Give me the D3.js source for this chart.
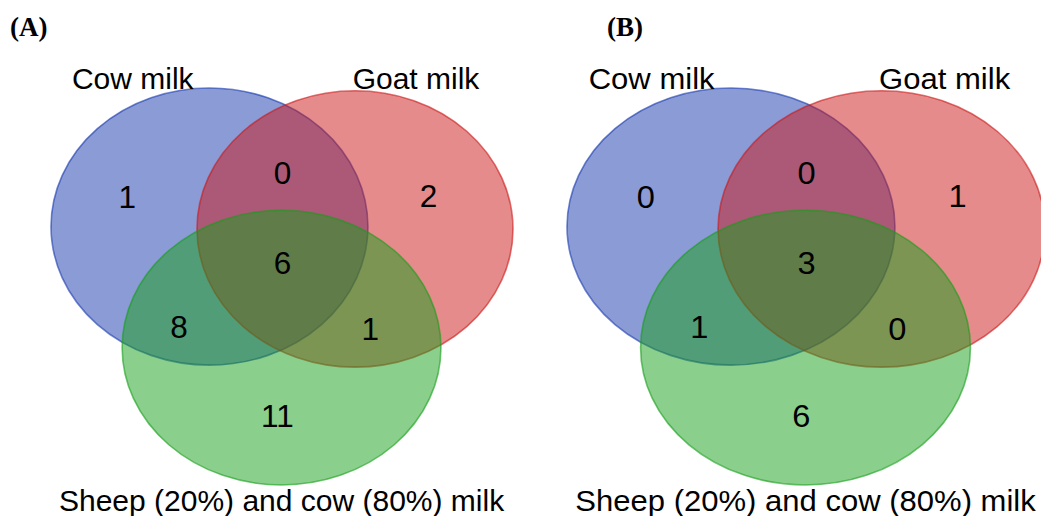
<!DOCTYPE html>
<html>
<head>
<meta charset="utf-8">
<script src="https://cdn.jsdelivr.net/npm/d3@7"></script>
<style>
  html, body { margin: 0; padding: 0; background: #fff; }
  svg { display: block; }
</style>
</head>
<body>
<svg id="chart" width="1041" height="516"></svg>
<script>
// --- data ---
const setNames = ["Cow milk", "Goat milk", "Sheep (20%) and cow (80%) milk"];
const panelLabels = ["(A)", "(B)"];
// regions: cow only, goat only, sheep/cow only, cow∩goat, cow∩sheep, goat∩sheep, all three
const regionNames = ["cow", "goat", "sheep", "cow_goat", "cow_sheep", "goat_sheep", "all"];
const countsA = [1, 2, 11, 0, 8, 1, 6];
const countsB = [0, 1, 6, 0, 1, 0, 3];
const panelCounts = [countsA, countsB];

// --- layout (unit coordinates inside each panel) ---
const setColors = ["#1537ad", "#cb1717", "#159f19"];
const ellipses = [
  { cx: 0.343, cy: 0.349, rx: 0.343, ry: 0.349 },
  { cx: 0.658, cy: 0.355, rx: 0.342, ry: 0.348 },
  { cx: 0.499, cy: 0.654, rx: 0.345, ry: 0.346 }
];
const regionPos = [
  [0.165, 0.274], [0.817, 0.270], [0.490, 0.825],
  [0.501, 0.212], [0.277, 0.600], [0.691, 0.605], [0.501, 0.441]
];
const setLabelPos = [[0.177, 0.0025], [0.79, 0.0025], [0.499, 1.066]];
const panelX = [[51, 513], [567, 1045]];
const panelLetterX = [10, 607];

const svg = d3.select("#chart");
const y = d3.scaleLinear().domain([0, 1]).range([88, 485]);
const ys = y(1) - y(0);

panelCounts.forEach((counts, p) => {
  const x = d3.scaleLinear().domain([0, 1]).range(panelX[p]);
  const xs = x(1) - x(0);
  const sx = xs / 462; // panel B is a little wider
  const g = svg.append("g");

  g.selectAll("ellipse")
    .data(ellipses)
    .join("ellipse")
    .attr("cx", d => x(d.cx))
    .attr("cy", d => y(d.cy))
    .attr("rx", d => d.rx * xs)
    .attr("ry", d => d.ry * ys)
    .attr("fill", (d, i) => setColors[i])
    .attr("fill-opacity", 0.5)
    .attr("stroke", (d, i) => setColors[i])
    .attr("stroke-opacity", 0.6)
    .attr("stroke-width", 1.6);

  g.selectAll("text.count")
    .data(counts)
    .join("text")
    .attr("class", "count")
    .attr("transform", (d, i) => `translate(${x(regionPos[i][0])},${y(regionPos[i][1])}) scale(${sx},1)`)
    .attr("dy", "0.36em")
    .attr("text-anchor", "middle")
    .style("font-family", "'Liberation Sans', Arial, sans-serif")
    .style("font-size", "31.5px")
    .style("fill", "#000")
    .text(d => d);

  g.selectAll("text.setlabel")
    .data(setNames)
    .join("text")
    .attr("class", "setlabel")
    .attr("transform", (d, i) => `translate(${x(setLabelPos[i][0])},${y(setLabelPos[i][1])}) scale(${sx},1)`)
    .attr("text-anchor", "middle")
    .style("font-family", "'Liberation Sans', Arial, sans-serif")
    .style("font-size", i => "30px")
    .style("fill", "#000")
    .text(d => d);

  svg.append("text")
    .attr("x", panelLetterX[p])
    .attr("y", 36)
    .style("font-family", "'Liberation Serif', 'Times New Roman', serif")
    .style("font-weight", "bold")
    .style("font-size", "27px")
    .text(panelLabels[p]);
});
</script>
</body>
</html>
